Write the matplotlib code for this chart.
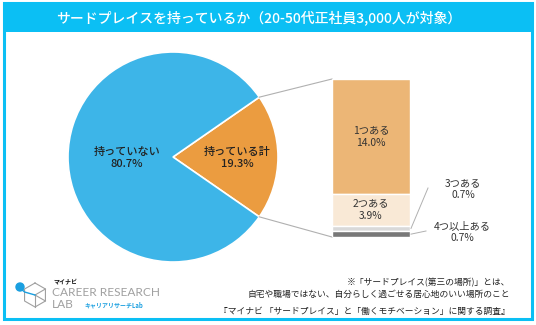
import matplotlib.pyplot as plt
import numpy as np
from matplotlib.patches import Rectangle, Circle

plt.rcParams['font.family'] = ['Noto Sans CJK JP', 'DejaVu Sans']

# 全体の内訳
pie_labels = ['持っている計', '持っていない']
pie_values = [19.3, 80.7]
pie_colors = ['#eb9c40', '#3db5e8']

# 「持っている」の内訳（上から順）
bar_labels = ['1つある', '2つある', '3つある', '4つ以上ある']
bar_values = [14.0, 3.9, 0.7, 0.7]
bar_colors = ['#ecb676', '#f9e9d6', '#d9d9d9', '#787878']

title = 'サードプレイスを持っているか（20-50代正社員3,000人が対象）'
note = ['※「サードプレイス(第三の場所)」とは、',
        '自宅や職場ではない、自分らしく過ごせる居心地のいい場所のこと']
source = '『マイナビ 「サードプレイス」と「働くモチベーション」に関する調査』'

W, H = 536, 325
fig = plt.figure(figsize=(W / 100, H / 100), dpi=100)
ax = fig.add_axes([0, 0, 1, 1])

# 円グラフ（ピクセル座標）
cx, cy, r = 173, 157, 105
half = pie_values[0] / 100 * 360 / 2
ax.pie(pie_values, colors=pie_colors, startangle=-half, center=(cx, cy), radius=r,
       wedgeprops=dict(edgecolor='white', linewidth=1.2))
ax.set_xlim(0, W)
ax.set_ylim(H, 0)
ax.set_aspect('auto')
ax.axis('off')

ax.text(cx - 46, cy + 1, f'{pie_labels[1]}\n{pie_values[1]:.1f}%', ha='center', va='center',
        fontsize=8, fontweight='medium', color='#222222', linespacing=1.3)
ax.text(cx + 64, cy + 1, f'{pie_labels[0]}\n{pie_values[0]:.1f}%', ha='center', va='center',
        fontsize=8, fontweight='medium', color='#222222', linespacing=1.3)

# 積み上げ棒
bx0, bx1, by0, by1 = 332, 410, 79, 237
bax = fig.add_axes([bx0 / W, 1 - by1 / H, (bx1 - bx0) / W, (by1 - by0) / H])
total = sum(bar_values)
bottoms = total - np.cumsum(bar_values)
bax.bar(0, bar_values, bottom=bottoms, width=1, color=bar_colors,
        edgecolor='white', linewidth=1.0)
bax.set_xlim(-0.5, 0.5)
bax.set_ylim(0, total)
bax.axis('off')

for i in range(2):
    bax.text(0, bottoms[i] + bar_values[i] / 2, f'{bar_labels[i]}\n{bar_values[i]:.1f}%',
             ha='center', va='center', fontsize=7.4, color='#333333', linespacing=1.3)

# 円と棒をつなぐ線
a = np.deg2rad(half)
ex, ey = cx + r * np.cos(a), r * np.sin(a)
ax.plot([ex, bx0], [cy - ey, by0], color='#b0b0b0', lw=0.8)
ax.plot([ex, bx0], [cy + ey, by1], color='#b0b0b0', lw=0.8)

# 小さい項目の引き出し線とラベル
px = by1 - (bottoms[2] + bar_values[2] / 2) / total * (by1 - by0)
ax.plot([bx1 + 1, 428], [px, 188], color='#b0b0b0', lw=0.7)
ax.text(463, 189, f'{bar_labels[2]}\n{bar_values[2]:.1f}%', ha='center', va='center',
        fontsize=7.4, color='#333333', linespacing=1.3)
py = by1 - (bottoms[3] + bar_values[3] / 2) / total * (by1 - by0)
ax.plot([bx1 + 1, 426], [py, 231], color='#b0b0b0', lw=0.7)
ax.text(462, 232, f'{bar_labels[3]}\n{bar_values[3]:.1f}%', ha='center', va='center',
        fontsize=7.4, color='#333333', linespacing=1.3)

# 枠とタイトル帯
ax.add_patch(Rectangle((3, 3), 529, 29, facecolor='#0bbff4', edgecolor='none'))
ax.add_patch(Rectangle((4, 3), 528, 316, facecolor='none', edgecolor='#0bbff4', lw=2.2))
ax.text(W / 2 - 9, 17.5, title, ha='center', va='center', fontsize=10,
        fontweight='medium', color='white')

# 注記と出典
ax.text(510, 283, note[0], ha='right', va='center', fontsize=6.3, color='#222222')
ax.text(510, 294, note[1], ha='right', va='center', fontsize=6.3, color='#222222')
ax.text(510, 311, source, ha='right', va='center', fontsize=6.3, color='#222222')

# ロゴ
gray = '#a0a0a0'
hx, hy, s = 35, 295, 12
hexa = [(hx, hy - s), (hx + s * 0.87, hy - s / 2), (hx + s * 0.87, hy + s / 2),
        (hx, hy + s), (hx - s * 0.87, hy + s / 2), (hx - s * 0.87, hy - s / 2), (hx, hy - s)]
ax.plot([p[0] for p in hexa], [p[1] for p in hexa], color=gray, lw=0.8)
ax.plot([hx, hx + s * 0.87], [hy, hy - s / 2], color=gray, lw=0.8)
ax.plot([hx, hx], [hy, hy + s], color=gray, lw=0.8)
ax.plot([hx, hx + s * 0.87], [hy, hy + s / 2], color=gray, lw=0.8)
ax.plot([20, hx - s * 0.87, hx, hx], [288, hy - s / 2 + 3, hy, hy], color='#1a9fe0', lw=1.0)
ax.add_patch(Circle((20, 287), 4, color='#1a9fe0'))

ax.text(53, 282, 'マイナビ', ha='left', va='center', fontsize=4.3, fontweight='bold', color='#111111')
ax.text(52, 293, 'CAREER RESEARCH', ha='left', va='center', fontsize=8.6,
        family=['Lato'], fontweight='normal', color=gray)
ax.text(52, 305, 'LAB', ha='left', va='center', fontsize=8.6,
        family=['Lato'], fontweight='normal', color=gray)
ax.text(84, 305, 'キャリアリサーチLab', ha='left', va='center', fontsize=4.3,
        fontweight='bold', color='#1a9fe0')

fig.savefig('out.png', dpi=100)
